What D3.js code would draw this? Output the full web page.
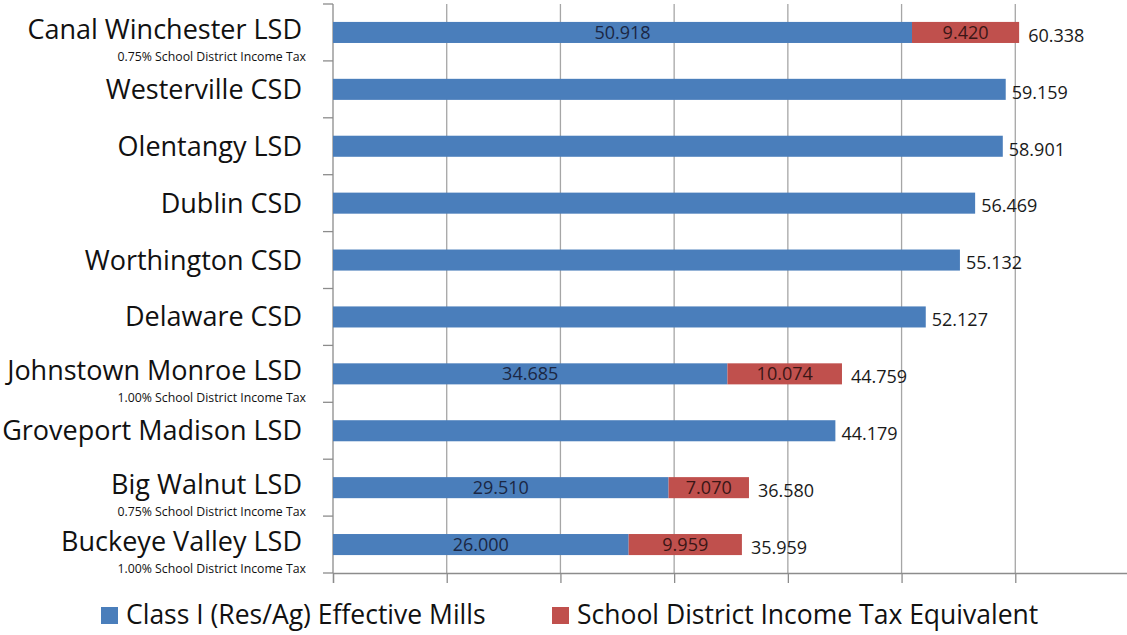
<!DOCTYPE html>
<html>
<head>
<meta charset="utf-8">
<script src="https://cdn.jsdelivr.net/npm/d3@7"></script>
<style>
  body { margin: 0; background: #fff; }
  text { font-family: "Open Sans", Lato, sans-serif; }
</style>
</head>
<body>
<div id="chart"></div>
<script>
// data
var districts = ["Canal Winchester LSD", "Westerville CSD", "Olentangy LSD", "Dublin CSD",
  "Worthington CSD", "Delaware CSD", "Johnstown Monroe LSD", "Groveport Madison LSD",
  "Big Walnut LSD", "Buckeye Valley LSD"];
var notes = ["0.75% School District Income Tax", "", "", "", "", "",
  "1.00% School District Income Tax", "", "0.75% School District Income Tax",
  "1.00% School District Income Tax"];
var mills = [50.918, 59.159, 58.901, 56.469, 55.132, 52.127, 34.685, 44.179, 29.510, 26.000];
var taxEquiv = [9.420, 0, 0, 0, 0, 0, 10.074, 0, 7.070, 9.959];
var totals = [60.338, 59.159, 58.901, 56.469, 55.132, 52.127, 44.759, 44.179, 36.580, 35.959];
var seriesNames = ["Class I (Res/Ag) Effective Mills", "School District Income Tax Equivalent"];
var xTicks = [0, 10, 20, 30, 40, 50, 60, 70];

var colors = ["#4a7ebb", "#c0504d"];

var rows = districts.map((d, i) => ({
  name: d, note: notes[i], mills: mills[i], tax: taxEquiv[i], total: totals[i]
}));

var width = 1127, height = 635;
var margin = { top: 4, right: -2, bottom: 62, left: 333 };
var chartWidth = width - margin.left - margin.right;
var chartHeight = height - margin.top - margin.bottom;

var svg = d3.select("#chart").append("svg")
  .attr("width", width)
  .attr("height", height);

var g = svg.append("g")
  .attr("transform", `translate(${margin.left}, ${margin.top})`);

var xScale = d3.scaleLinear().domain([0, 70]).range([0, chartWidth]);
var yScale = d3.scaleBand().domain(districts).range([0, chartHeight]).paddingInner(0.63).paddingOuter(0.315);
var band = d3.scaleBand().domain(districts).range([0, chartHeight]);

// vertical gridlines
g.append("g").attr("class", "grid")
  .selectAll("line")
  .data(xTicks.slice(1))
  .enter().append("line")
  .attr("x1", d => xScale(d)).attr("x2", d => xScale(d))
  .attr("y1", 0).attr("y2", chartHeight)
  .attr("stroke", "#a6a6a6").attr("stroke-width", 1.3);

// x axis, ticks only
var xAxis = d3.axisBottom(xScale).tickValues(xTicks).tickSize(10).tickFormat("");
var xg = g.append("g")
  .attr("transform", `translate(0, ${chartHeight})`)
  .call(xAxis);
xg.select(".domain").attr("stroke", "#8c8c8c").attr("stroke-width", 1.3);
xg.selectAll(".tick line").attr("stroke", "#8c8c8c").attr("stroke-width", 1.3);

// y axis line with ticks at band boundaries
g.append("line")
  .attr("x1", 0).attr("x2", 0).attr("y1", 0).attr("y2", chartHeight)
  .attr("stroke", "#8c8c8c").attr("stroke-width", 1.3);
g.append("g").selectAll("line")
  .data(districts.concat(["end"]))
  .enter().append("line")
  .attr("x1", -10).attr("x2", 0)
  .attr("y1", (d, i) => i * band.bandwidth())
  .attr("y2", (d, i) => i * band.bandwidth())
  .attr("stroke", "#8c8c8c").attr("stroke-width", 1.3);

// category labels
var labels = g.append("g").selectAll("g")
  .data(rows)
  .enter().append("g")
  .attr("transform", d => `translate(-31, ${band(d.name) + band.bandwidth() / 2})`);
labels.append("text")
  .attr("text-anchor", "end")
  .attr("dy", d => d.note ? "0.24em" : "0.35em")
  .attr("font-size", 27)
  .attr("fill", "#111")
  .text(d => d.name);
labels.filter(d => d.note).append("text")
  .attr("x", 4)
  .attr("y", 24)
  .attr("dy", "0.35em")
  .attr("text-anchor", "end")
  .attr("font-size", 12.3)
  .attr("fill", "#111")
  .text(d => d.note);

// bars
var bars = g.append("g").attr("class", "bars");
bars.selectAll(".bar-mills")
  .data(rows)
  .enter().append("rect")
  .attr("x", xScale(0))
  .attr("y", d => yScale(d.name))
  .attr("width", d => xScale(d.mills) - xScale(0))
  .attr("height", yScale.bandwidth())
  .attr("fill", colors[0]);
bars.selectAll(".bar-tax")
  .data(rows.filter(d => d.tax > 0))
  .enter().append("rect")
  .attr("x", d => xScale(d.mills))
  .attr("y", d => yScale(d.name))
  .attr("width", d => xScale(d.mills + d.tax) - xScale(d.mills))
  .attr("height", yScale.bandwidth())
  .attr("fill", colors[1]);

// labels inside the stacked segments
var valLabels = g.append("g").attr("font-size", 18);
rows.filter(d => d.tax > 0).forEach(d => {
  valLabels.append("text")
    .attr("x", xScale(d.mills / 2))
    .attr("y", yScale(d.name) + yScale.bandwidth() / 2)
    .attr("dy", "0.35em")
    .attr("text-anchor", "middle")
    .attr("fill", "#1b2744")
    .text(d3.format(".3f")(d.mills));
  valLabels.append("text")
    .attr("x", xScale(d.mills + d.tax / 2))
    .attr("y", yScale(d.name) + yScale.bandwidth() / 2)
    .attr("dy", "0.35em")
    .attr("text-anchor", "middle")
    .attr("fill", "#3a1616")
    .text(d3.format(".3f")(d.tax));
});

// totals right of the bars
valLabels.selectAll(".total")
  .data(rows)
  .enter().append("text")
  .attr("x", d => xScale(d.total) + (d.tax > 0 ? 9 : 6))
  .attr("y", d => yScale(d.name) + yScale.bandwidth() / 2 + 3)
  .attr("dy", "0.35em")
  .attr("fill", "#1a1a1a")
  .text(d => d3.format(".3f")(d.total));

// legend
var legend = svg.append("g").attr("transform", "translate(0, 615)");
var legendX = [101, 552];
seriesNames.forEach((s, i) => {
  legend.append("rect")
    .attr("x", legendX[i]).attr("y", -8)
    .attr("width", 17).attr("height", 17)
    .attr("fill", colors[i]);
  legend.append("text")
    .attr("x", legendX[i] + 25)
    .attr("dy", "0.35em")
    .attr("font-size", 26.5)
    .attr("fill", "#111")
    .text(s);
});
</script>
</body>
</html>
